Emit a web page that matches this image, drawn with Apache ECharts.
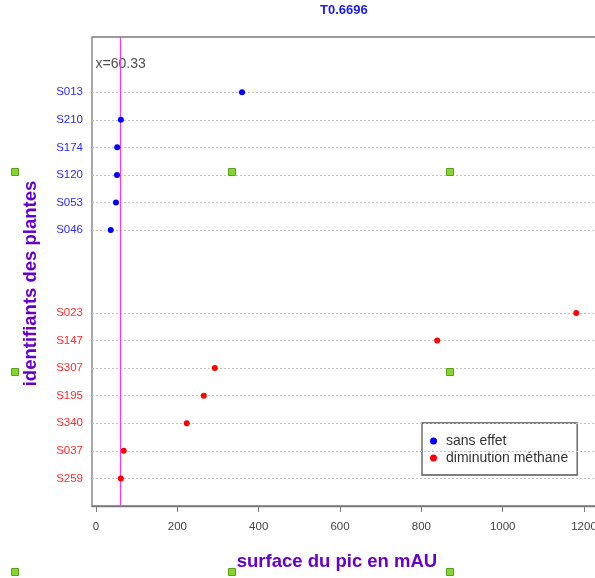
<!DOCTYPE html>
<html>
<head>
<meta charset="utf-8">
<script src="https://cdn.jsdelivr.net/npm/echarts@6/dist/echarts.min.js"></script>
<style>
  html, body { margin: 0; padding: 0; background: #fff; }
  #chart { width: 595px; height: 578px; }
</style>
</head>
<body>
<div id="chart"></div>
<script>
// ---- data ----
const chartTitle = 'T0.6696';
const thresholdX = 60.33;
const seriesNames = ['sans effet', 'diminution méthane'];
const blueLabels = ['S013', 'S210', 'S174', 'S120', 'S053', 'S046'];
const blueValues = [359, 61, 52, 51.5, 49, 36];
const redLabels = ['S023', 'S147', 'S307', 'S195', 'S340', 'S037', 'S259'];
const redValues = [1181, 839, 292, 265, 223, 68, 61];
const xTicks = [0, 200, 400, 600, 800, 1000, 1200];
const xName = 'surface du pic en mAU';
const yName = 'identifiants des plantes';

// ---- row positions (dotchart style: groups separated by a gap of 2) ----
const redRows = redLabels.map((_, i) => redLabels.length - i);
const blueRows = blueLabels.map((_, i) => redLabels.length + 2 + blueLabels.length - i);
const rowLabel = {};
redRows.forEach((r, i) => { rowLabel[r] = '{r|' + redLabels[i] + '}'; });
blueRows.forEach((r, i) => { rowLabel[r] = '{b|' + blueLabels[i] + '}'; });
const allRows = blueRows.concat(redRows);
const annotRow = blueRows[0] + 1;

const FONT = '"Liberation Sans", Arial, Helvetica, sans-serif';
const PURPLE = '#6600cc';

const chart = echarts.init(document.getElementById('chart'), null, { renderer: 'canvas' });

const handles = [];
[[15,172],[232,172],[450,172],[15,372],[450,372],[15,572],[232,572],[450,572]].forEach(p => {
  handles.push({
    type: 'rect', silent: true, z: 100,
    shape: { x: p[0] - 3.5, y: p[1] - 3.5, width: 7, height: 7 },
    style: { fill: '#84d82c', stroke: '#5f9f1e', lineWidth: 1 }
  });
});

const option = {
  backgroundColor: '#fff',
  animation: false,
  textStyle: { fontFamily: FONT },
  title: {
    text: chartTitle,
    left: 320, top: 4, padding: 0,
    textStyle: { color: '#1a1aff', fontSize: 13, fontWeight: 'bold', fontFamily: FONT }
  },
  legend: {
    data: seriesNames,
    orient: 'vertical',
    left: 422, top: 423,
    padding: [10, 9, 9, 8],
    itemGap: 1,
    itemWidth: 7, itemHeight: 7,
    icon: 'circle',
    borderColor: '#555', borderWidth: 1.3,
    backgroundColor: '#fff',
    textStyle: { fontSize: 14, color: '#333', fontFamily: FONT, padding: [0, 0, 0, 4], lineHeight: 16 }
  },
  grid: {
    left: 92, top: 37, right: -2, bottom: 72,
    show: true, borderColor: '#7a7a7a', borderWidth: 1.3,
    containLabel: false, outerBoundsMode: 'none'
  },
  xAxis: {
    type: 'value', min: -10, max: 1232,
    name: xName, nameLocation: 'middle', nameGap: 46,
    nameTextStyle: { color: PURPLE, fontSize: 18.5, fontWeight: 'bold', fontFamily: FONT, padding: [0, 15, 0, 0] },
    splitLine: { show: false },
    axisLine: { show: true, lineStyle: { color: '#7a7a7a', width: 1.3 } },
    axisTick: { show: true, customValues: xTicks, length: 6, lineStyle: { color: '#7a7a7a', width: 1 } },
    axisLabel: { customValues: xTicks, margin: 15, fontSize: 11.5, color: '#444', fontFamily: FONT,
      formatter: v => String(v) }
  },
  yAxis: {
    type: 'value', min: 0, max: 17, interval: 1,
    name: yName, nameLocation: 'middle', nameGap: 52,
    nameRotate: 90,
    nameTextStyle: { color: PURPLE, fontSize: 18.5, fontWeight: 'bold', fontFamily: FONT, padding: [0, 24, 0, 0] },
    splitLine: { show: false },
    axisLine: { show: false },
    axisTick: { show: false },
    axisLabel: {
      customValues: allRows, margin: 9, fontSize: 11.5, fontFamily: FONT,
      formatter: v => rowLabel[v] || '',
      rich: {
        b: { color: '#2a2aff', fontSize: 11.5, fontFamily: FONT },
        r: { color: '#ff2a2a', fontSize: 11.5, fontFamily: FONT }
      }
    }
  },
  series: [
    {
      name: '_grid', type: 'scatter', data: [], z: 1, silent: true,
      markLine: {
        silent: true, symbol: 'none', animation: false,
        label: { show: false },
        lineStyle: { color: '#c4c4c4', type: [2, 2], width: 1 },
        data: allRows.map(r => ({ yAxis: r }))
      }
    },
    {
      name: '_threshold', type: 'scatter', z: 2, silent: true,
      symbolSize: 0,
      data: [[thresholdX, annotRow]],
      label: {
        show: true, position: 'inside', formatter: 'x=' + thresholdX,
        color: '#222', fontSize: 14, fontFamily: FONT
      },
      markLine: {
        silent: true, symbol: 'none', animation: false,
        label: { show: false },
        lineStyle: { color: '#f03cf0', type: 'solid', width: 1.3 },
        data: [{ xAxis: thresholdX }]
      }
    },
    {
      name: seriesNames[0], type: 'scatter', z: 20,
      symbol: 'circle', symbolSize: 6,
      itemStyle: { color: '#0000ff', opacity: 1, borderWidth: 0 },
      data: blueValues.map((v, i) => [v, blueRows[i]])
    },
    {
      name: seriesNames[1], type: 'scatter', z: 20,
      symbol: 'circle', symbolSize: 6,
      itemStyle: { color: '#ff0000', opacity: 1, borderWidth: 0 },
      data: redValues.map((v, i) => [v, redRows[i]])
    }
  ],
  graphic: handles
};

chart.setOption(option);
</script>
</body>
</html>
